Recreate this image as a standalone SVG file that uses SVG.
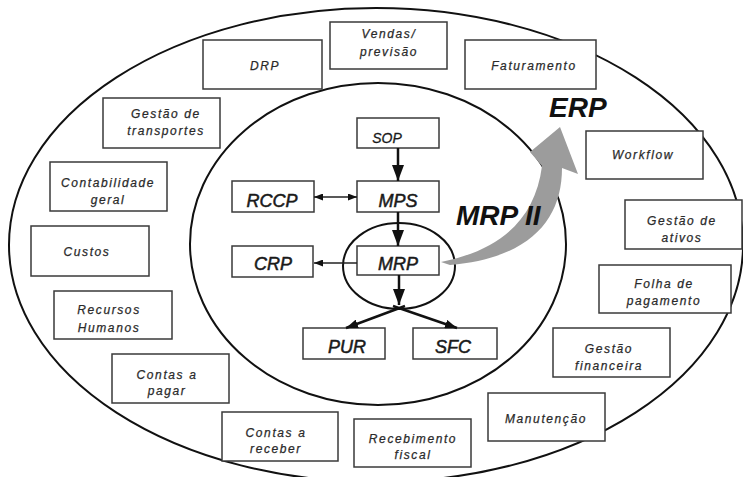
<svg xmlns="http://www.w3.org/2000/svg" width="743" height="477" viewBox="0 0 743 477">
  <style>
    .ring { fill: none; stroke: #111; stroke-width: 2; }
    .box { fill: #fff; stroke: #3a3a3a; stroke-width: 1.5; }
    .t { font-family: "Liberation Sans", Arial, sans-serif; font-style: italic; font-size: 12px; letter-spacing: 1.6px; fill: #2a2a2a; stroke: #2a2a2a; stroke-width: 0.25; text-anchor: middle; }
    .c { font-family: "Liberation Sans", Arial, sans-serif; font-style: italic; font-size: 18px; fill: #1a1a1a; stroke: #1a1a1a; stroke-width: 0.5; text-anchor: middle; }
    .big { font-family: "Liberation Sans", Arial, sans-serif; font-style: italic; font-weight: bold; font-size: 28px; fill: #111; }
    .flow { stroke: #111; stroke-width: 2.5; fill: none; }
    .side { stroke: #222; stroke-width: 1.4; fill: none; }
  </style>
  <defs>
    <marker id="head" viewBox="0 0 16 12" refX="16" refY="6" markerWidth="16" markerHeight="12" orient="auto" markerUnits="userSpaceOnUse">
      <path d="M0,0 L16,6 L0,12 z" fill="#111"/>
    </marker>
    <marker id="headS" viewBox="0 0 12 9" refX="12" refY="4.5" markerWidth="12" markerHeight="9" orient="auto" markerUnits="userSpaceOnUse">
      <path d="M0,0 L12,4.5 L0,9 z" fill="#111"/>
    </marker>
    <marker id="tiny" viewBox="0 0 9 7" refX="9" refY="3.5" markerWidth="9" markerHeight="7" orient="auto-start-reverse" markerUnits="userSpaceOnUse">
      <path d="M0,0 L9,3.5 L0,7 z" fill="#111"/>
    </marker>
  </defs>

  <!-- scope rings: ERP (outer), MRP II (inner), MRP (core) -->
  <g id="rings">
    <ellipse class="ring" cx="376" cy="245" rx="367" ry="237"/>
    <ellipse class="ring" cx="378" cy="244" rx="188" ry="161"/>
    <ellipse class="ring" cx="399" cy="266" rx="56" ry="43"/>
  </g>

  <!-- evolution arrow MRP -> ERP -->
  <g id="evolution">
    <path d="M441,262 C500,250 535,220 542,166 L530,152 L560,127 L578,174 L562,168 C562,220 530,258 450,265 Z" fill="#9c9c9c"/>
  </g>

  <!-- ERP modules -->
  <g id="drp"><rect class="box" x="203" y="40" width="119" height="49"/><text class="t" x="265" y="70">DRP</text></g>
  <g id="vendas"><rect class="box" x="330" y="22" width="117" height="47"/><text class="t" x="389" y="38">Vendas/</text><text class="t" x="389" y="56">previsão</text></g>
  <g id="faturamento"><rect class="box" x="465" y="40" width="131" height="49"/><text class="t" x="534" y="70">Faturamento</text></g>
  <g id="transportes"><rect class="box" x="103" y="98" width="117" height="50"/><text class="t" x="166" y="118">Gestão de</text><text class="t" x="166" y="135">transportes</text></g>
  <g id="contabilidade"><rect class="box" x="50" y="162" width="117" height="49"/><text class="t" x="108" y="187">Contabilidade</text><text class="t" x="108" y="204">geral</text></g>
  <g id="custos"><rect class="box" x="31" y="226" width="118" height="50"/><text class="t" x="87" y="256">Custos</text></g>
  <g id="rh"><rect class="box" x="54" y="291" width="118" height="48"/><text class="t" x="109" y="314">Recursos</text><text class="t" x="109" y="332">Humanos</text></g>
  <g id="pagar"><rect class="box" x="112" y="354" width="117" height="49"/><text class="t" x="167" y="379">Contas a</text><text class="t" x="167" y="395">pagar</text></g>
  <g id="receber"><rect class="box" x="222" y="412" width="116" height="49"/><text class="t" x="276" y="437">Contas a</text><text class="t" x="276" y="453">receber</text></g>
  <g id="recebimento"><rect class="box" x="354" y="419" width="117" height="48"/><text class="t" x="413" y="443">Recebimento</text><text class="t" x="413" y="459">fiscal</text></g>
  <g id="manutencao"><rect class="box" x="488" y="393" width="117" height="48"/><text class="t" x="546" y="423">Manutenção</text></g>
  <g id="financeira"><rect class="box" x="553" y="328" width="117" height="49"/><text class="t" x="609" y="353">Gestão</text><text class="t" x="609" y="370">financeira</text></g>
  <g id="folha"><rect class="box" x="599" y="265" width="132" height="48"/><text class="t" x="664" y="288">Folha de</text><text class="t" x="664" y="305">pagamento</text></g>
  <g id="ativos"><rect class="box" x="625" y="200" width="117" height="49"/><text class="t" x="682" y="225">Gestão de</text><text class="t" x="682" y="242">ativos</text></g>
  <g id="workflow"><rect class="box" x="586" y="131" width="117" height="48"/><text class="t" x="643" y="159">Workflow</text></g>

  <!-- MRP II planning chain -->
  <g id="sop"><rect class="box" x="357" y="118" width="82" height="30"/><text class="c" x="387" y="143" style="font-size:14px;stroke-width:0.3">SOP</text></g>
  <g id="mps"><rect class="box" x="357" y="181" width="82" height="31"/><text class="c" x="398" y="207">MPS</text></g>
  <g id="rccp"><rect class="box" x="232" y="181" width="82" height="31"/><text class="c" x="272" y="207">RCCP</text></g>
  <g id="crp"><rect class="box" x="232" y="246" width="81" height="31"/><text class="c" x="273" y="270">CRP</text></g>
  <g id="mrp"><rect class="box" x="357" y="246" width="82" height="29"/><text class="c" x="398" y="270">MRP</text></g>
  <g id="pur"><rect class="box" x="303" y="328" width="82" height="31"/><text class="c" x="347" y="353">PUR</text></g>
  <g id="sfc"><rect class="box" x="413" y="328" width="84" height="31"/><text class="c" x="453" y="353">SFC</text></g>

  <!-- connectors -->
  <g id="connectors">
    <line class="flow" x1="398" y1="148" x2="398" y2="181" marker-end="url(#head)"/>
    <line class="flow" x1="398" y1="212" x2="398" y2="246" marker-end="url(#head)"/>
    <line class="flow" x1="399" y1="275" x2="399" y2="305" marker-end="url(#head)"/>
    <line class="flow" x1="405" y1="306" x2="346" y2="328" stroke-width="2" marker-end="url(#headS)"/>
    <line class="flow" x1="393" y1="306" x2="457" y2="328" stroke-width="2" marker-end="url(#headS)"/>
    <line class="side" x1="314" y1="197" x2="357" y2="197" marker-start="url(#tiny)" marker-end="url(#tiny)"/>
    <line class="side" x1="357" y1="263" x2="314" y2="263" marker-end="url(#tiny)"/>
  </g>

  <!-- scope labels -->
  <g id="labels">
    <text class="big" x="549" y="117">ERP</text>
    <text class="big" x="456" y="225">MRP II</text>
  </g>
</svg>
